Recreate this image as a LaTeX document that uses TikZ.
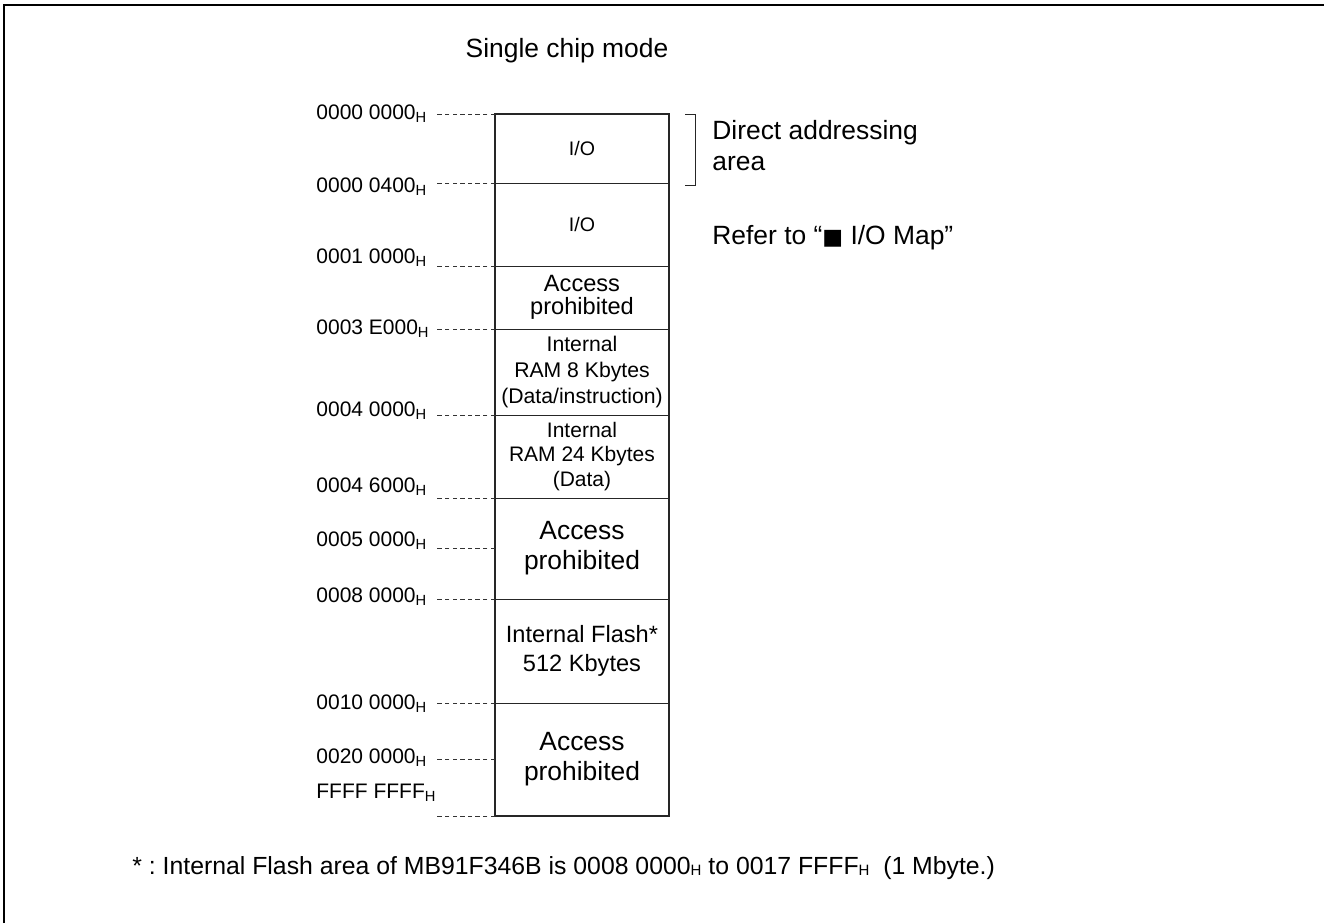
\documentclass[tikz,border=0pt]{standalone}
\usepackage{fontspec}
\setmainfont{Liberation Sans}
\newfontfamily\symfont{DejaVu Sans}
\usetikzlibrary{positioning}
\frenchspacing
\tikzset{
    mapregion/.style={rectangle,draw=black!85,line width=0.5pt,align=center,inner sep=0pt,outer sep=0pt,minimum width=87pt},
    mapframe/.style={draw=black!85,line width=1pt},
    addrlabel/.style={anchor=west,inner sep=0pt,font=\fontsize{10.5}{12}\selectfont},
    addrdash/.style={black!80,line width=0.5pt,dash pattern=on 2.2pt off 1.6pt},
    bracketline/.style={black!85,line width=0.5pt},
    notetext/.style={inner sep=0pt,align=left,font=\fontsize{13.2}{15.5}\selectfont},
    pageframe/.style={line width=1pt}
}
\newcommand{\hsub}{\raisebox{-0.1ex}{\fontsize{7.5}{8}\selectfont H}}

\begin{document}
\begin{tikzpicture}[x=0.5pt,y=-0.5pt,node distance=0pt]
    \useasboundingbox (0,0) rectangle (1324,923);
    \draw[pageframe] (4,923) -- (4,5) -- (1324,5);
    \node[notetext,anchor=base] (mode) at (567,57) {Single chip mode};
    % memory regions, top to bottom
    \node[mapregion,anchor=north west,minimum height=34.5pt,font=\fontsize{9.8}{11}\selectfont] (io1) at (495,114) {I/O};
    \node[mapregion,below=of io1,minimum height=41.5pt,font=\fontsize{9.8}{11}\selectfont] (io2) {I/O};
    \node[mapregion,below=of io2,minimum height=31.5pt,font=\fontsize{11.8}{11.5}\selectfont] (acc1) {Access\\prohibited};
    \node[mapregion,below=of acc1,minimum height=43pt,font=\fontsize{10.6}{13}\selectfont] (ram8) {Internal\\RAM 8 Kbytes\\(Data/instruction)};
    \node[mapregion,below=of ram8,minimum height=41.5pt,font=\fontsize{10.5}{12.2}\selectfont] (ram24) {Internal\\RAM 24 Kbytes\\(Data)};
    \node[mapregion,below=of ram24,minimum height=50.5pt,font=\fontsize{13.2}{15}\selectfont] (acc2) {Access\\prohibited};
    \node[mapregion,below=of acc2,minimum height=52pt,font=\fontsize{11.8}{14.5}\selectfont] (flash) {Internal Flash*\\512 Kbytes};
    \node[mapregion,below=of flash,minimum height=56.5pt,font=\fontsize{13.2}{15}\selectfont] (acc3) {Access\\prohibited};
    \draw[mapframe] (io1.north west) rectangle (acc3.south east);
    % addresses
    \foreach \name/\addr/\ypos in {a0/0000 0000/114,a1/0000 0400/187,a2/0001 0000/258,a3/0003 E000/329,
        a4/0004 0000/411,a5/0004 6000/487,a6/0005 0000/541,a7/0008 0000/597,a8/0010 0000/704,
        a9/0020 0000/758,a10/FFFF FFFF/793}
        \node[addrlabel] (\name) at (316,\ypos) {\addr\textsubscript{H}};
    \foreach \spot in {io1.north west,io2.north west,acc1.north west,ram8.north west,ram24.north west,
        acc2.north west,acc2.west,flash.north west,acc3.north west,acc3.west,acc3.south west}
        \draw[addrdash] (\spot) -- ++(-29pt,0);
    % direct addressing bracket
    \draw[bracketline] ([xshift=8pt]io1.north east) -- ++(5pt,0) -- ([xshift=13pt,yshift=-1pt]io1.south east) -- ++(-5pt,0);
    \node[notetext,anchor=north west] (direct) at (712,120) {Direct addressing\\area};
    \node[notetext,anchor=base west] (refer) at (712,244) {Refer to “{\symfont\fontsize{11}{11}\selectfont ■} I/O Map”};
    \node[notetext,anchor=base west,font=\fontsize{12.4}{14}\selectfont] (note) at (132,874) {* : Internal Flash area of MB91F346B is 0008 0000\hsub{} to 0017 FFFF\hsub\ \ (1 Mbyte.)};
\end{tikzpicture}
\end{document}
